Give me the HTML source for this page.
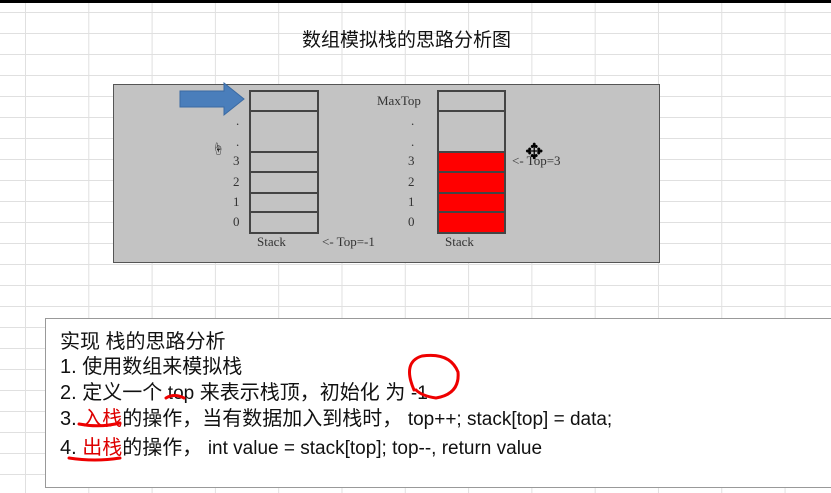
<!DOCTYPE html>
<html><head><meta charset="utf-8"><style>
body{margin:0;width:831px;height:493px;overflow:hidden;background:#fff;position:relative;font-family:"Liberation Sans","Noto Sans CJK SC",sans-serif}
.g{position:absolute;inset:0;background-image:linear-gradient(to right,#e0e0e0 1px,transparent 1px),linear-gradient(to bottom,#e0e0e0 1px,transparent 1px);background-size:63.3px 100%,100% 21px;background-position:25px 0,0 12px}
.a{position:absolute}
.s{font-family:"Liberation Serif","Noto Serif CJK SC",serif;font-size:13px;color:#333;position:absolute}
.c{position:absolute;border:2px solid #444;box-sizing:border-box}
.l{position:absolute;height:2px;background:#444}
.t{position:absolute;left:60px;font-size:20px;color:#111;white-space:nowrap}
.e{font-size:19px}
</style></head><body>
<div class="g"></div>
<div class="a" style="left:0;top:0;width:831px;height:3px;background:#000"></div>
<div class="a" style="left:302px;top:25px;font-size:19px;color:#111">数组模拟栈的思路分析图</div>
<div class="a" style="left:113px;top:84px;width:547px;height:179px;background:#c3c3c3;border:1.5px solid #555;box-sizing:border-box"></div>
<svg class="a" style="left:178px;top:82px" width="70" height="36"><polygon points="2,9 46,9 46,1 66,17 46,33 46,25 2,25" fill="#4a7ebb" stroke="#3a6aa3"/></svg>
<div class="c" style="left:249px;top:90px;width:70px;height:144px"></div>
<div class="l" style="left:249px;top:110px;width:70px"></div>
<div class="l" style="left:249px;top:151px;width:70px"></div>
<div class="l" style="left:249px;top:171px;width:70px"></div>
<div class="l" style="left:249px;top:192px;width:70px"></div>
<div class="l" style="left:249px;top:211px;width:70px"></div>
<div class="a" style="left:437px;top:152px;width:68px;height:82px;background:#f00"></div>
<div class="c" style="left:437px;top:90px;width:69px;height:144px"></div>
<div class="l" style="left:437px;top:110px;width:69px"></div>
<div class="l" style="left:437px;top:151px;width:69px"></div>
<div class="l" style="left:437px;top:171px;width:69px"></div>
<div class="l" style="left:437px;top:192px;width:69px"></div>
<div class="l" style="left:437px;top:211px;width:69px"></div>
<div class="s" style="left:236px;top:113px">.</div><div class="s" style="left:236px;top:134px">.</div>
<div class="s" style="left:233px;top:153px">3</div><div class="s" style="left:233px;top:174px">2</div><div class="s" style="left:233px;top:194px">1</div><div class="s" style="left:233px;top:214px">0</div>
<div class="s" style="left:411px;top:113px">.</div><div class="s" style="left:411px;top:134px">.</div>
<div class="s" style="left:408px;top:153px">3</div><div class="s" style="left:408px;top:174px">2</div><div class="s" style="left:408px;top:194px">1</div><div class="s" style="left:408px;top:214px">0</div>
<div class="s" style="left:377px;top:93px">MaxTop</div>
<div class="s" style="left:257px;top:234px">Stack</div>
<div class="s" style="left:445px;top:234px">Stack</div>
<div class="s" style="left:322px;top:234px">&lt;- Top=-1</div>
<div class="s" style="left:512px;top:153px">&lt;- Top=3</div>
<div class="a" style="left:525px;top:139px;font-size:22px;color:#000">✥</div>
<div class="a" style="left:212px;top:140px;font-size:12px">☝</div>
<div class="a" style="left:45px;top:318px;width:790px;height:170px;background:#fff;border:1px solid #999;box-sizing:border-box"></div>
<div class="t" style="top:325px">实现 栈的思路分析</div>
<div class="t" style="top:350px">1. 使用数组来模拟栈</div>
<div class="t" style="top:376px">2. 定义一个 <span class="e">top</span>  来表示栈顶，初始化 为 <span class="e">-1</span></div>
<div class="t" style="top:402px">3. <span style="color:#d00">入栈</span>的操作，当有数据加入到栈时， <span class="e">top++; stack[top] = data;</span></div>
<div class="t" style="top:431px">4. <span style="color:#d00">出栈</span>的操作， <span class="e">int value = stack[top]; top--, return value</span></div>
<svg class="a" style="left:0;top:0" width="831" height="493" fill="none" stroke="#e00" stroke-width="3" stroke-linecap="round">
<path d="M166,398 Q174,393 184,398"/>
<path d="M79,424 Q100,428 120,423"/>
<path d="M69,458 Q95,462 120,458"/>
<path d="M414,390 Q402,362 422,356 Q450,352 458,372 Q460,394 436,398 Q422,396 416,390"/>
</svg>
</body></html>
